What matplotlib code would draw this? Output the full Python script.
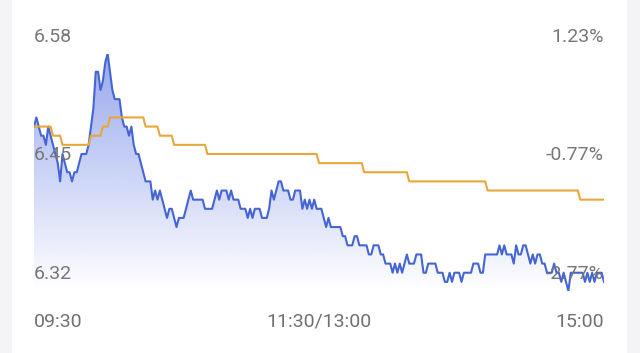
import numpy as np
import matplotlib
matplotlib.use("Agg")
import matplotlib.pyplot as plt
from matplotlib.patches import Rectangle, Polygon
from matplotlib.colors import LinearSegmentedColormap

plt.rcParams['font.family'] = ['Roboto', 'DejaVu Sans']

# minute prices (in cents), 09:30-11:30 then 13:00-15:00
price_cents = [
    650, 651, 650, 649, 649, 648, 650, 649, 648, 647,
    646, 644, 647, 646, 645, 645, 644, 645, 645, 646,
    647, 647, 647, 648, 650, 652, 656, 656, 654, 655,
    657, 658, 656, 654, 653, 653, 653, 651, 650, 650,
    649, 650, 648, 647, 647, 646, 645, 644,
    644, 644, 642, 643, 642, 643, 642, 641, 640, 641,
    641, 640, 639, 640, 640, 640, 641, 642, 643, 642,
    642, 642, 642, 642, 641, 641, 641, 641, 642, 643,
    642, 643, 643, 643, 642, 643, 642, 642, 642, 641,
    641, 641, 640, 641, 640, 641, 641, 641,
    640, 640, 640, 641, 643, 642, 643, 644, 644, 643,
    643, 643, 642, 642, 643, 643, 643, 641, 642, 641,
    642, 641, 642, 641, 641, 641, 640, 639, 640, 639,
    639, 639, 639, 639, 638, 638, 637, 637, 637, 638,
    638, 637, 637, 637, 637, 636, 636, 637,
    637, 637, 636, 636, 635, 635, 635, 634, 635, 634,
    635, 634, 635, 636, 635, 635, 635, 636, 636, 636,
    634, 634, 635, 635, 635, 635, 634, 634, 634, 633,
    633, 634, 633, 634, 634, 634, 633, 634, 634, 634,
    634, 635, 635, 635, 634, 634, 636, 636,
    636, 636, 636, 636, 637, 636, 637, 636, 636, 636,
    635, 637, 636, 636, 637, 637, 636, 635, 636, 635,
    636, 636, 635, 635, 634, 634, 634, 635, 634, 634,
    633, 634, 633, 632, 634, 634, 634, 634, 634, 634,
    633, 634, 633, 634, 633, 634, 634, 634, 633,
]

# average price line: level and how many minutes it stays there
avg_levels = [6.50, 6.49, 6.48, 6.49, 6.50, 6.51, 6.50, 6.49, 6.48,
              6.47, 6.46, 6.45, 6.44, 6.43, 6.42]
avg_runs = [8, 4, 12, 5, 3, 15, 6, 6, 14, 47, 19, 19, 33, 39, 11]

y_labels = [6.58, 6.45, 6.32]
pct_labels = ['1.23%', '-0.77%', '-2.77%']
time_labels = ['09:30', '11:30/13:00', '15:00']
time_pos = [0, 120, 240]

price = np.array(price_cents) / 100
avg = np.repeat(avg_levels, avg_runs)
x = np.arange(len(price))

fig = plt.figure(figsize=(6.4, 3.53), dpi=100)
fig.patch.set_facecolor('white')
# light grey side bands of the screenshot
fig.patches.append(Rectangle((0, 0), 12 / 640, 1, transform=fig.transFigure,
                             facecolor='#f4f4f6', edgecolor='none', zorder=0))
fig.patches.append(Rectangle((627 / 640, 0), 13 / 640, 1, transform=fig.transFigure,
                             facecolor='#f4f4f6', edgecolor='none', zorder=0))

ax = fig.add_axes([34 / 640, 1 - 291 / 353, 570 / 640, (291 - 53.5) / 353])
ax.axis('off')

# gradient fill under price line
grad = np.linspace(0, 1, 256).reshape(-1, 1)
cmap = LinearSegmentedColormap.from_list(
    'fade', [(0.40, 0.50, 0.90, 0.0), (0.40, 0.50, 0.90, 0.68)])
img = ax.imshow(grad, extent=[0, 240, 6.32, 6.58], origin='lower',
                aspect='auto', cmap=cmap, zorder=1)
poly = Polygon(np.column_stack([np.r_[x, x[-1], x[0]], np.r_[price, 6.32, 6.32]]),
               closed=True, facecolor='none', edgecolor='none')
ax.add_patch(poly)
img.set_clip_path(poly)

ax.plot(x, price, color='#4565d2', lw=1.5, zorder=3)
ax.plot(x, avg, color='#e9a73a', lw=1.5, zorder=4)

ax.set_xlim(0, 240)
ax.set_ylim(6.32, 6.58)

for v, lab in zip(y_labels, pct_labels):
    ax.annotate(f'{v:.2f}', xy=(0, v), xytext=(0, 12), textcoords='offset pixels',
                ha='left', va='baseline', fontsize=14, color='#777777',
                zorder=6, annotation_clip=False)
    ax.annotate(lab, xy=(240, v), xytext=(0, 12), textcoords='offset pixels',
                ha='right', va='baseline', fontsize=14, color='#777777',
                zorder=6, annotation_clip=False)

for pos, lab, ha in zip(time_pos, time_labels, ['left', 'center', 'right']):
    ax.annotate(lab, xy=(pos, 6.32), xytext=(0, -36), textcoords='offset pixels',
                ha=ha, va='baseline', fontsize=14, color='#707070',
                annotation_clip=False)

plt.savefig('out.png', dpi=100)
